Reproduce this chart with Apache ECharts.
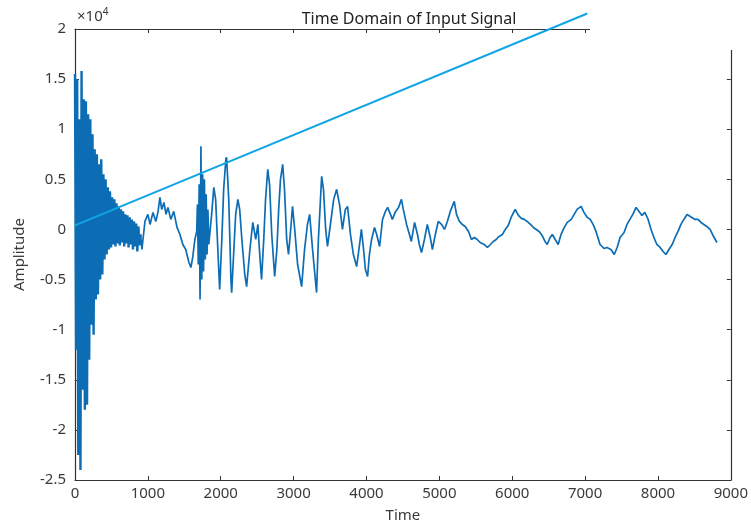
<!DOCTYPE html>
<html>
<head>
<meta charset="utf-8">
<script src="https://cdn.jsdelivr.net/npm/echarts@6/dist/echarts.min.js"></script>
<style>
  html, body { margin: 0; padding: 0; background: #fff; }
  #main { width: 751px; height: 528px; }
</style>
</head>
<body>
<div id="main"></div>
<script>
// axis ticks
var xTicks = [0, 1000, 2000, 3000, 4000, 5000, 6000, 7000, 8000, 9000];
var yTicks = [-25000, -20000, -15000, -10000, -5000, 0, 5000, 10000, 15000, 20000];

// dense burst at the start, one sample every 15 time units
var burstStep = 15;
var burstAmp = [
  15500, -12000, 15000, -22500, 11000, -24000, 15800, -16000, 13000, -18000,
  12800, -17500, 11500, -13000, 11000, -9500, 9500, -10500, 8000, -7000,
  7500, -6500, 6500, -5000, 7000, -4500, 5500, -3000, 5000, -2500,
  4200, -2000, 3800, -1800, 3200, -1500, 3000, -1700, 2600, -1400,
  2300, -1600, 2000, -1300, 1800, -1700, 1500, -1400, 1400, -1800,
  1200, -1500, 1000, -2000, 800, -1700, 600, -2200, 300, -1600, -500
];

// rest of the signal [time, amplitude]
var tailPoints = [
  [900, -500], [918, -2000], [960, 800], [1000, 1500], [1030, 500], [1070, 1700], [1110, 800],
  [1140, 1800], [1165, 3200], [1190, 2000], [1220, 2700], [1250, 1500], [1275, 2200],
  [1315, 1000], [1355, 1800], [1400, 200], [1440, -500], [1480, -1500], [1520, -2000],
  [1560, -3200], [1590, -3800], [1615, -2800], [1645, -1000], [1670, -200],
  [1680, 2500], [1692, -3500], [1704, 4500], [1716, -7000], [1728, 8300], [1740, -5000],
  [1752, 5500], [1764, -4200], [1776, 5000], [1788, -3000], [1800, 3500], [1812, -2500],
  [1824, 2000], [1836, -1500],
  [1875, 1500], [1905, 4200], [1930, 3000], [1960, -2000], [1985, -6000], [2015, -1000],
  [2040, 4000], [2070, 7000], [2080, 7200], [2110, 3000], [2140, -5000], [2150, -6300],
  [2180, -2000], [2205, 1500], [2235, 3000], [2260, 2000], [2290, -1000], [2330, -4500],
  [2355, -5700], [2400, -2000], [2440, 700], [2480, -1000], [2510, 500], [2535, -2500],
  [2560, -5000], [2590, -1000], [2615, 3000], [2645, 6000], [2670, 4500], [2700, -500],
  [2740, -4700], [2770, -2000], [2795, 2000], [2820, 5000], [2850, 6500], [2875, 4000],
  [2905, -1000], [2930, -2500], [2960, 0], [2985, 2300], [3015, 0], [3055, -3500],
  [3110, -5700], [3150, -2000], [3190, 500], [3220, 1500], [3260, -2000], [3315, -6300],
  [3340, -1000], [3385, 5300], [3410, 4000], [3440, 0], [3465, -1700], [3505, 500],
  [3550, 3000], [3590, 4000], [3630, 2500], [3670, 0], [3710, 2000], [3740, 2300],
  [3780, -500], [3820, -2500], [3865, -3700], [3905, -1500], [3930, 0], [3960, -2000],
  [3985, -4000], [4015, -4700], [4040, -2500], [4070, -1000], [4110, 200], [4140, -500],
  [4180, -1700], [4220, 1000], [4260, 1800], [4290, 2200], [4330, 1500], [4355, 1000],
  [4400, 1800], [4440, 2200], [4480, 3000], [4505, 2000], [4550, 500], [4590, -500],
  [4615, -1200], [4660, 700], [4700, -500], [4725, -1500], [4755, -2300], [4795, -1000],
  [4835, 500], [4875, -800], [4905, -2000], [4945, -500], [4985, 800], [5030, 500],
  [5070, 0], [5110, 800], [5150, 1800], [5205, 2800], [5235, 1500], [5275, 800],
  [5315, 500], [5355, 300], [5400, -200], [5440, -1000], [5480, -800], [5520, -1000],
  [5560, -1300], [5615, -1500], [5660, -1800], [5700, -1500], [5740, -1200], [5780, -1000],
  [5820, -700], [5865, -500], [5905, 0], [5945, 400], [5985, 1200], [6040, 2000],
  [6085, 1400], [6125, 1100], [6165, 1000], [6205, 800], [6250, 500], [6290, 200],
  [6330, 0], [6370, -200], [6410, -600], [6450, -1200], [6480, -1500], [6520, -800],
  [6550, -500], [6590, -1000], [6630, -1500], [6670, -500], [6715, 200], [6755, 700],
  [6810, 1000], [6850, 1500], [6890, 2000], [6945, 2300], [6985, 1700], [7030, 1200],
  [7070, 1000], [7110, 500], [7150, -200], [7205, -1500], [7260, -1900], [7300, -1800],
  [7355, -2000], [7400, -2500], [7440, -1800], [7480, -800], [7535, -300], [7575, 500],
  [7615, 1000], [7655, 1500], [7700, 2200], [7740, 1800], [7780, 1400], [7820, 1700],
  [7865, 1000], [7905, 0], [7945, -800], [7985, -1500], [8030, -1800], [8070, -2200],
  [8110, -2500], [8150, -2000], [8195, -1500], [8235, -800], [8275, -200], [8315, 500],
  [8355, 1000], [8400, 1500], [8425, 1500], [8465, 1200], [8510, 1000], [8550, 1000],
  [8590, 700], [8630, 500], [8670, 300], [8715, 0], [8755, -600], [8810, -1300]
];

// straight overlay line
var trendTime = [0, 7030];
var trendAmp = [400, 21550];

var burst = burstAmp.map(function (v, i) { return [i * burstStep, v]; });
var trend = trendTime.map(function (t, i) { return [t, trendAmp[i]]; });

var axisColor = '#333333';
var labelStyle = { color: '#3a3a3a', fontSize: 15, fontFamily: 'Noto Sans' };
var signalColor = '#0c6db5';

var chart = echarts.init(document.getElementById('main'));
chart.setOption({
  animation: false,
  backgroundColor: '#ffffff',
  title: {
    text: 'Time Domain of Input Signal',
    left: 404,
    top: 6,
    textAlign: 'center',
    textStyle: { color: '#222', fontSize: 16, fontWeight: 'normal', fontFamily: 'Noto Sans' }
  },
  grid: { left: 75, right: 19, top: 29, bottom: 46 },
  xAxis: [{
    type: 'value',
    min: xTicks[0],
    max: xTicks[xTicks.length - 1],
    interval: 1000,
    name: 'Time',
    nameLocation: 'middle',
    nameGap: 28,
    nameTextStyle: labelStyle,
    axisLine: { onZero: false, lineStyle: { color: axisColor, width: 1.2 } },
    axisTick: { inside: true, length: 4, lineStyle: { color: axisColor } },
    axisLabel: Object.assign({
      margin: 6,
      formatter: function (v) { return String(v); }
    }, labelStyle),
    splitLine: { show: false }
  }, {
    type: 'value',
    position: 'top',
    min: xTicks[0],
    max: xTicks[xTicks.length - 1],
    interval: 1000,
    axisLine: { onZero: false, lineStyle: { color: axisColor, width: 1.2 } },
    axisTick: { inside: true, length: 4, lineStyle: { color: axisColor } },
    axisLabel: { show: false },
    splitLine: { show: false }
  }],
  yAxis: [{
    type: 'value',
    min: yTicks[0],
    max: yTicks[yTicks.length - 1],
    interval: 5000,
    name: 'Amplitude',
    nameLocation: 'middle',
    nameGap: 48,
    nameTextStyle: labelStyle,
    axisLine: { show: true, onZero: false, lineStyle: { color: axisColor, width: 1.2 } },
    axisTick: { show: true, inside: true, length: 4, lineStyle: { color: axisColor } },
    axisLabel: Object.assign({
      margin: 9,
      formatter: function (v) { return String(v / 10000); }
    }, labelStyle),
    splitLine: { show: false }
  }, {
    type: 'value',
    position: 'right',
    min: yTicks[0],
    max: yTicks[yTicks.length - 1],
    interval: 5000,
    axisLine: { show: true, onZero: false, lineStyle: { color: axisColor, width: 1.2 } },
    axisTick: { show: true, inside: true, length: 4, lineStyle: { color: axisColor } },
    axisLabel: { show: false },
    splitLine: { show: false }
  }],
  graphic: [{
    type: 'rect',
    shape: { x: 590, y: 0, width: 161, height: 50 },
    style: { fill: '#ffffff' },
    z: 100
  }, {
    type: 'text',
    left: 77,
    top: 7,
    style: {
      text: '{a|×10}{b|4}',
      rich: {
        a: { fontSize: 15, fill: '#3a3a3a', fontFamily: 'Noto Sans' },
        b: { fontSize: 10, fill: '#3a3a3a', fontFamily: 'Noto Sans', padding: [0, 0, 10, 0] }
      }
    },
    z: 100
  }],
  series: [{
    type: 'line',
    data: burst,
    showSymbol: false,
    sampling: 'none',
    lineStyle: { color: signalColor, width: 2.4 },
    z: 2
  }, {
    type: 'line',
    data: tailPoints,
    showSymbol: false,
    sampling: 'none',
    lineStyle: { color: signalColor, width: 1.7 },
    z: 2
  }, {
    type: 'line',
    data: trend,
    showSymbol: false,
    clip: false,
    lineStyle: { color: '#11a5e6', width: 2 },
    z: 5
  }]
});
</script>
</body>
</html>
